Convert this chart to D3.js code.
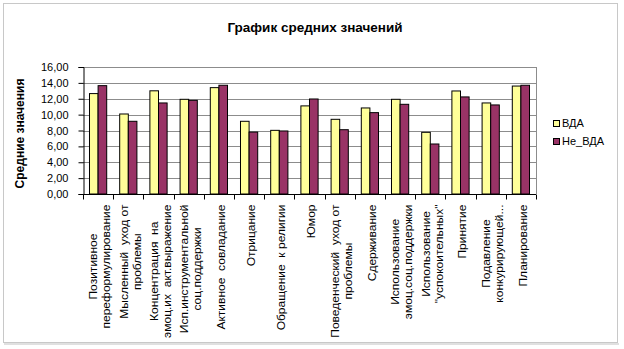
<!DOCTYPE html>
<html>
<head>
<meta charset="utf-8">
<script src="https://cdn.jsdelivr.net/npm/d3@7"></script>
<style>
  body { margin: 0; background: #fff; }
  svg { display: block; font-family: Arial, "Liberation Sans", sans-serif; }
</style>
</head>
<body>
<div id="chart"></div>
<script>
// chart data
const categories = [
  'Позитивное\nпереформулирование',
  'Мысленный  уход от\nпроблемы',
  'Концентрация  на\nэмоц.их  акт.выражение',
  'Исп.инструментальной\nсоц.поддержки',
  'Активное  совладание',
  'Отрицание',
  'Обращение  к религии',
  'Юмор',
  'Поведенческий  уход от\nпроблемы',
  'Сдерживание',
  'Использование\nэмоц.соц.поддержки',
  'Использование\n"успокоительных"',
  'Принятие',
  'Подавление\nконкурирующей...',
  'Планирование'
];
const seriesNames = ['ВДА', 'Не_ВДА'];
const vdaValues = [12.65, 10.08, 13.0, 11.93, 13.4, 9.16, 8.02, 11.1, 9.41, 10.84, 11.93, 7.77, 12.98, 11.47, 13.6];
const neVdaValues = [13.65, 9.16, 11.47, 11.8, 13.7, 7.8, 7.94, 11.97, 8.1, 10.25, 11.3, 6.3, 12.23, 11.22, 13.7];
const yTicks = [0, 2, 4, 6, 8, 10, 12, 14, 16];
const seriesColors = ['#ffff99', '#993366'];

const width = 624, height = 349;
const margin = { top: 67, right: 88, bottom: 155, left: 83 };

const svg = d3.select('#chart').append('svg').attr('width', width).attr('height', height);

// outer frame
svg.append('rect').attr('x', 3.5).attr('y', 3.5).attr('width', 614).attr('height', 339)
  .attr('fill', '#fff').attr('stroke', '#c8c8c8').attr('stroke-width', 1);
svg.append('line').attr('x1', 4).attr('x2', 619).attr('y1', 344).attr('y2', 344)
  .attr('stroke', '#e0e0e0').attr('stroke-width', 2);

svg.append('text').attr('x', 315).attr('y', 32).attr('text-anchor', 'middle')
  .attr('font-size', 13.5).attr('font-weight', 'bold').text('График средних значений');

const x0 = d3.scaleBand().domain(categories).range([margin.left, width - margin.right])
  .paddingInner(0.43).paddingOuter(0.215);
const x1 = d3.scaleBand().domain(seriesNames).range([0, x0.bandwidth()]);
const y = d3.scaleLinear().domain([0, 16]).range([height - margin.bottom, margin.top]);

const plotW = width - margin.right - margin.left;
const plot = svg.append('g');

// gridlines
plot.append('g').selectAll('line').data(yTicks.slice(1)).join('line')
  .attr('x1', margin.left).attr('x2', margin.left + plotW)
  .attr('y1', d => Math.round(y(d)) + 0.5).attr('y2', d => Math.round(y(d)) + 0.5)
  .attr('stroke', '#8c8c8c').attr('stroke-width', 1);
plot.append('line')
  .attr('x1', margin.left + plotW + 0.5).attr('x2', margin.left + plotW + 0.5)
  .attr('y1', y(16)).attr('y2', y(0)).attr('stroke', '#8c8c8c');

// bars
const rows = categories.map((c, i) => ({ cat: c, values: [vdaValues[i], neVdaValues[i]] }));
const groups = plot.append('g').selectAll('g').data(rows).join('g')
  .attr('transform', d => `translate(${x0(d.cat)},0)`);
groups.selectAll('rect').data(d => d.values.map((v, k) => ({ name: seriesNames[k], v, k }))).join('rect')
  .attr('x', d => x1(d.name)).attr('width', x1.bandwidth())
  .attr('y', d => y(d.v)).attr('height', d => y(0) - y(d.v))
  .attr('fill', d => seriesColors[d.k]).attr('stroke', '#000').attr('stroke-width', 1);

// y axis
const yAxis = plot.append('g').attr('transform', `translate(${margin.left + 0.5},0)`)
  .call(d3.axisLeft(y).tickValues(yTicks).tickSize(5).tickPadding(10)
    .tickFormat(d => d3.format('.2f')(d).replace('.', ',')));
yAxis.selectAll('path,line').attr('stroke', '#000');
yAxis.selectAll('text').attr('font-size', 11).attr('fill', '#000')
  .attr('font-family', 'Arial, "Liberation Sans", sans-serif');

// x axis with ticks at category boundaries
const y0 = Math.round(y(0)) + 0.5;
plot.append('line').attr('x1', margin.left).attr('x2', margin.left + plotW)
  .attr('y1', y0).attr('y2', y0).attr('stroke', '#000');
const step = x0.step();
plot.append('g').selectAll('line').data(d3.range(categories.length + 1)).join('line')
  .attr('x1', i => Math.round(margin.left + i * step) + 0.5).attr('x2', i => Math.round(margin.left + i * step) + 0.5)
  .attr('y1', y0).attr('y2', y0 + 5).attr('stroke', '#000');

// category labels (rotated, wrapped, stretched so the longest line reaches the frame)
const labelFont = 11;
const lineH = 13;
const labelTop = y0 + 10;
const labelRoom = 338 - labelTop;
const labels = plot.append('g').selectAll('g').data(categories).join('g');
const widths = [];
labels.each(function (d) {
  const g = d3.select(this);
  const lines = d.split('\n');
  const texts = lines.map((ln, i) => g.append('text')
    .attr('font-size', labelFont)
    .attr('y', (i - (lines.length - 1) / 2) * lineH)
    .attr('dy', '0.35em')
    .attr('xml:space', 'preserve')
    .style('white-space', 'pre')
    .text(ln));
  const maxW = d3.max(texts, t => t.node().getBBox().width);
  texts.forEach(t => t.attr('text-anchor', 'middle').attr('x', -maxW / 2));
  widths.push(maxW);
});
const stretch = labelRoom / d3.max(widths);
labels.attr('transform', d => `translate(${x0(d) + x0.bandwidth() / 2 + 2},${labelTop}) rotate(-90) scale(${stretch},1)`);

// y axis title
svg.append('text').attr('transform', `translate(20,${(y(0) + y(16)) / 2 + 3}) rotate(-90)`)
  .attr('text-anchor', 'middle').attr('dy', '0.35em')
  .attr('font-size', 12).attr('font-weight', 'bold').text('Средние значения');

// legend
const legend = svg.append('g').selectAll('g').data(seriesNames).join('g')
  .attr('transform', (d, i) => `translate(553,${120 + i * 18})`);
legend.append('rect').attr('x', 0.5).attr('y', 0.5).attr('width', 6).attr('height', 6)
  .attr('fill', (d, i) => seriesColors[i]).attr('stroke', '#000');
legend.append('text').attr('x', 9).attr('y', 3.5).attr('dy', '0.35em')
  .attr('font-size', 11).text(d => d);
</script>
</body>
</html>
